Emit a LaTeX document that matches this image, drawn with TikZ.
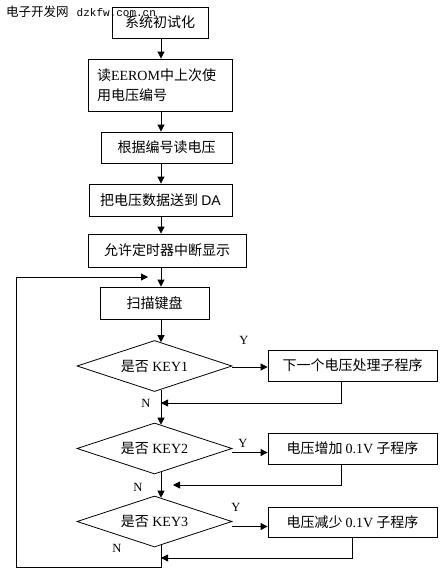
\documentclass[tikz,border=0pt]{standalone}
\usepackage{fontspec}
\setmainfont{Liberation Serif}
\newfontfamily\cjk{Noto Sans CJK SC}
\newfontfamily\mono{Liberation Mono}
\newfontfamily\arial{Liberation Sans}
\usetikzlibrary{shapes.geometric,arrows.meta,calc}
\tikzset{
  box/.style={draw, fill=white, line width=0.8pt, inner sep=0pt, font=\cjk\fontsize{14}{20}\selectfont},
  dec/.style={draw, fill=white, diamond, shape aspect=3, line width=0.8pt, inner sep=0pt,
     minimum width=155pt, minimum height=51pt, font=\fontsize{14}{16}\selectfont},
  arr/.style={line width=0.8pt, -{Triangle[length=7pt,width=7pt]}},
  ln/.style={line width=0.8pt},
  lbl/.style={font=\fontsize{12.5}{14}\selectfont, inner sep=0pt}
}
\begin{document}
\begin{tikzpicture}[x=1pt,y=-1pt]
\useasboundingbox (0,0) rectangle (443,576);
\fill[white] (0,0) rectangle (443,576);
\coordinate (mx) at (161,0);
% boxes
\node[box, minimum width=96pt, minimum height=31pt] (b1) at (160,22.5) {系统初试化};
\node[box, minimum width=144pt, minimum height=52pt, text width=126pt, align=left] (b2) at (160,85) {读{\rmfamily EEROM}中上次使\\用电压编号};
\node[box, minimum width=131pt, minimum height=31pt] (b3) at (166.5,147.5) {根据编号读电压};
\node[box, minimum width=143pt, minimum height=32pt] (b4) at (160.5,200) {把电压数据送到 {\arial DA}};
\node[box, minimum width=158pt, minimum height=33pt] (b5) at (167,250.5) {允许定时器中断显示};
\node[box, minimum width=109pt, minimum height=32pt] (scan) at (154.5,303) {扫描键盘};
% decisions
\node[dec] (d1) at (154.5,366) {{\cjk 是否} KEY1};
\node[dec] (d2) at (154.5,448.5) {{\cjk 是否} KEY2};
\node[dec] (d3) at (154.5,521.5) {{\cjk 是否} KEY3};
% right boxes
\node[box, minimum width=169pt, minimum height=31pt] (r1) at (352.5,365.5) {下一个电压处理子程序};
\node[box, minimum width=169pt, minimum height=31pt] (r2) at (352.5,448.5) {电压增加 {\rmfamily 0.1V} 子程序};
\node[box, minimum width=169pt, minimum height=30pt] (r3) at (352.5,522) {电压减少 {\rmfamily 0.1V} 子程序};
% header (drawn over box 1, as in the reference)
\node[anchor=west, inner sep=0pt] (hdr) at (6,12) {{\cjk\fontsize{12.5}{14}\selectfont 电子开发网}\hspace{8pt}{\mono\fontsize{11}{13}\selectfont dzkfw.com.cn}};
% main flow
\draw[arr] (b1.south -| mx) -- (b2.north -| mx);
\draw[arr] (b2.south -| mx) -- (b3.north -| mx);
\draw[arr] (b3.south -| mx) -- (b4.north -| mx);
\draw[arr] (b4.south -| mx) -- (b5.north -| mx);
\draw[arr] (b5.south -| mx) -- (scan.north -| mx);
\draw[arr] (scan.south -| mx) -- ($(d1.north -| mx)+(0,2.1)$);
\draw[arr] ($(d1.south -| mx)+(0,-2.1)$) -- ($(d2.north -| mx)+(0,2.1)$);
\draw[arr] ($(d2.south -| mx)+(0,-2.1)$) -- ($(d3.north -| mx)+(0,2.1)$);
% yes branches
\coordinate (y1) at ($(d1.east)+(0,1)$);
\coordinate (y2) at ($(d2.east)+(0,4)$);
\coordinate (y3) at ($(d3.east)+(0,5)$);
\draw[arr] (y1) -- (y1 -| r1.west);
\draw[arr] (y2) -- (y2 -| r2.west);
\draw[arr] (y3) -- (y3 -| r3.west);
% returns
\coordinate (j1) at (341,403);
\coordinate (j2) at (341,485);
\coordinate (e2) at (173,485);
\coordinate (j3) at (352,558);
\draw[arr] (r1.south -| j1) -- (j1) -- (j1 -| mx);
\draw[arr] (r2.south -| j2) -- (j2) -- (e2);
\draw[arr] (r3.south -| j3) -- (j3) -- (j3 -| mx);
% loop back
\coordinate (lb) at (16,567);
\coordinate (lt) at (16,277);
\coordinate (le) at (148,277);
\draw[arr] ($(d3.south -| mx)+(0,-2.1)$) -- (lb -| mx) -- (lb) -- (lt) -- (le);
% labels
\node[lbl] (ly1) at (244,340) {Y};
\node[lbl] (ly2) at (243,443) {Y};
\node[lbl] (ly3) at (236,507) {Y};
\node[lbl] (ln1) at (146,403) {N};
\node[lbl] (ln2) at (138,487) {N};
\node[lbl] (ln3) at (117,548) {N};
\end{tikzpicture}
\end{document}
